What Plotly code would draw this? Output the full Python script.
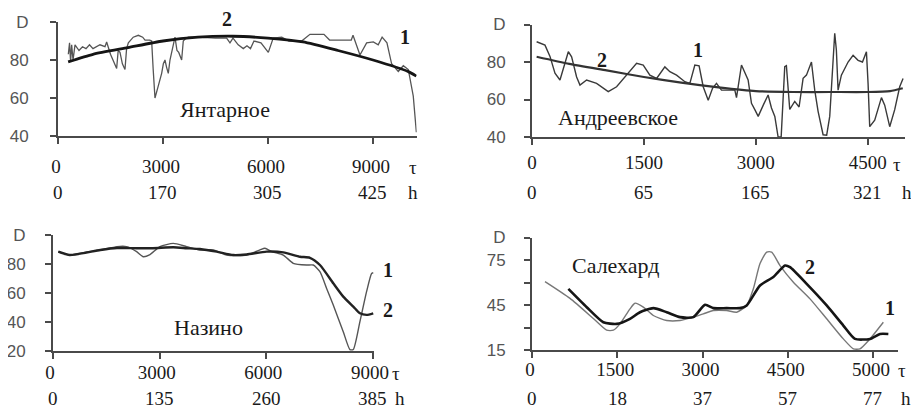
import plotly.graph_objects as go

# The page body has an 8px margin, so the figure is drawn 8px in from the
# top-left corner of the 919x409 window; all layout positions below are given
# in window pixels and converted with that offset.
OFF = 8
W, H = 919 - OFF, 409 - OFF

# ---------------- data ----------------
# Panel 1: Янтарное
yan_tau1 = [295,330,360,390,430,486,600,700,800,900,
            1000,1100,1200,1343,1390,1500,1676,1720,1771,1840,
            1914,1960,2010,2150,2295,2420,2486,2620,2676,2720,
            2771,2860,2962,3010,3057,3105,3152,3200,3248,3295,
            3343,3400,3450,3533,3580,3629,3724,3866,4000,4500,
            4819,4914,5000,5150,5295,5400,5500,5600,5800,6010,
            6150,6395,6600,6962,7100,7200,7600,7760,8380,8430,
            8629,8819,9010,9150,9262,9400,9533,9724,9867,10010,
            10152,10240]
yan_d1 = [83,89,79,88,80,88,85,87,86,88,
          86,87,88,87,89.5,83,75.5,85,84,78,
          75,86,89,92,93,92,90.5,90.5,90,75,
          60,66,73,78,80,76,73,80,84,89,
          92,85,84,80,90,91,92,92,92,91.5,
          91.5,89,91.5,88,86,87.5,86,90,89,84,
          91.5,92,90,90,92,93.5,93.5,90.5,90.5,93,
          82.6,89,89.5,88,92,89,78,74,77,75,
          61,42]
yan_tau2 = [290,1000,2000,3000,4000,5000,6000,7000,8000,9000,10000,10240]
yan_d2 = [79,83,86.5,90,92,92.5,91.5,89.5,85,80,74,71.5]
yan_tau_ticks = [0,3000,6000,9000]
yan_h_labels = ["0","170","305","425"]

# Panel 2: Андреевское
and_tau1 = [62,174,241,308,375,442,487,531,598,643,
            732,866,1022,1134,1268,1402,1491,1580,1670,1781,
            1848,1938,2049,2116,2183,2240,2295,2362,2420,2473,
            2540,2719,2741,2808,2897,2942,2987,3032,3100,3165,
            3210,3255,3299,3340,3388,3410,3455,3522,3580,3634,
            3679,3746,3790,3835,3902,3950,3991,4058,4080,4103,
            4147,4237,4304,4371,4430,4483,4505,4527,4594,4684,
            4728,4795,4862,4929,4974]
and_d1 = [90.8,89,83,74,70.4,79.3,85.5,82.8,72,67.7,
          70.4,68.6,64.2,66.8,73,79.3,78.4,73,71.2,77.4,
          74.8,73,69.5,68.6,78.4,78,66.8,59.6,66,68.6,
          65,65,61,78.4,70.4,58,54.6,51,57,62.4,
          55.5,51,40,40,77.5,78,54.7,59,56,71.3,
          73,80,65,53.7,41.2,41,51,95.3,86.4,65,
          73,80,83.6,80.9,80,85.5,68.6,45.5,49,61,
          57,45.5,54.6,66.8,71.2]
and_tau2 = [62,500,1000,1500,2000,2500,3000,3500,4000,4500,4800,4970]
and_d2 = [82.8,79,75.5,72,69,66.5,64.5,64,64,64,64.5,66]
and_tau_ticks = [0,1500,3000,4500]
and_h_labels = ["0","65","165","321"]

# Panel 3: Назино
naz_tau1 = [150,469,900,1331,1800,2072,2353,2541,2728,3009,
            3384,3760,4134,4509,4884,5446,5821,5962,6150,6478,
            6759,7134,7322,7509,7700,7884,8165,8353,8447,8634,
            8821,8962,9009]
naz_d1 = [88.5,86.2,88,89.7,92,92,88.5,85,86.5,92,
          94.2,92,89.7,89.7,86.2,86.2,89.7,90.9,88.5,86.2,
          80.5,79.3,79.3,74.7,63,51.7,33.3,21,21,40.2,
          60.9,73.5,74]
naz_tau2 = [150,469,1331,1800,2353,2810,3384,3760,4134,4603,
            5072,5446,6009,6478,6947,7228,7509,7884,8165,8447,
            8634,8821,9009]
naz_d2 = [88.5,86.2,89.7,91,90.9,90.9,91.5,90.9,90.3,88.5,
          86.2,86.6,88.5,88,85,84.3,79.3,66.7,57.5,50.6,
          46,44.9,46]
naz_tau_ticks = [0,3000,6000,9000]
naz_h_labels = ["0","135","260","385"]

# Panel 4: Салехард
sal_tau1 = [229,669,1079,1314,1431,1548,1724,1812,1959,2135,
            2370,2605,2839,3015,3191,3426,3602,3778,3895,4012,
            4130,4217,4364,4599,4892,5185,5478,5654,5771,5947,
            6182]
sal_d1 = [60.6,49.4,36,28.2,28.2,32.4,42.4,46.2,43.6,38,
          34.7,34.7,36.9,39.1,41.3,41.3,40.2,44.7,55.8,72.6,
          80.3,80.3,71.3,60.2,49.1,35.8,22.4,15.8,15.8,22.4,
          33.5]
sal_tau2 = [640,963,1255,1490,1724,1900,2135,2370,2605,2839,
            3045,3191,3426,3660,3778,4012,4247,4452,4540,4833,
            5185,5478,5683,5947,6123,6270]
sal_d2 = [55.7,43.5,33.5,32.4,35.8,40.2,42.9,40.2,36.9,36.9,
          45.1,42.9,42.9,42.9,44.7,58,63.6,71.3,70.2,59.1,
          44.7,31.3,22.4,22.4,25.7,25.7]
sal_tau_ticks = [0,1500,3000,4500,6000]
sal_tau_labels = ["0","1500","3000","4500","5000"]
sal_h_labels = ["0","18","37","57","77"]

ticks_d_100 = [40,60,80,100]
labels_d_100 = ["40","60","80","D"]
ticks_d_naz = [20,40,60,80,100]
labels_d_naz = ["20","40","60","80","D"]
ticks_d_sal = [15,30,45,60,75,90]
labels_d_sal = ["15","","45","","75","D"]

# ---------------- layout helpers ----------------
def px_x(p):
    return (p - OFF) / W

def px_y(p):
    return 1 - (p - OFF) / H

AX = "#4a4a4a"
SERIF = "Liberation Serif, Times New Roman, serif"
SANS = "Liberation Sans, Arial, sans-serif"

def xaxis(dom, rng, tickvals, ticktext, standoff, shift=0):
    return dict(domain=[px_x(dom[0]), px_x(dom[1])], range=rng, showline=True,
                linecolor=AX, linewidth=2, ticks="outside", ticklen=6, tickwidth=1.5,
                tickcolor=AX, showgrid=False, zeroline=False, tickvals=tickvals,
                ticktext=ticktext, tickfont=dict(family=SERIF, size=19, color="#1a1a1a"),
                ticklabelstandoff=standoff, ticklabelshift=shift,
                automargin=False, fixedrange=True)

def yaxis(dom, rng, tickvals, ticktext, standoff):
    return dict(domain=[px_y(dom[0]), px_y(dom[1])], range=rng, showline=True,
                linecolor=AX, linewidth=2, ticks="outside", ticklen=6, tickwidth=1.5,
                tickcolor=AX, showgrid=False, zeroline=False, tickvals=tickvals,
                ticktext=ticktext, tickfont=dict(family=SANS, size=17, color="#555"),
                ticklabelstandoff=standoff, automargin=False, fixedrange=True)

fig = go.Figure()

def add(x, y, ax, color, width, shape="linear"):
    fig.add_trace(go.Scatter(x=x, y=y, mode="lines", xaxis="x" + ax, yaxis="y" + ax,
                             line=dict(color=color, width=width, shape=shape,
                                       smoothing=0.6),
                             showlegend=False, hoverinfo="skip"))

add(yan_tau1, yan_d1, "", "#555555", 1.3)
add(yan_tau2, yan_d2, "", "#151515", 2.8, "spline")
add(and_tau1, and_d1, "2", "#3a3a3a", 1.4)
add(and_tau2, and_d2, "2", "#333333", 2.2, "spline")
add(naz_tau1, naz_d1, "3", "#555555", 1.4, "spline")
add(naz_tau2, naz_d2, "3", "#222222", 2.4, "spline")
add(sal_tau1, sal_d1, "4", "#777777", 1.4, "spline")
add(sal_tau2, sal_d2, "4", "#151515", 2.6, "spline")

fig.update_layout(
    template="none",
    width=W, height=H, margin=dict(l=0, r=0, t=0, b=0, autoexpand=False),
    paper_bgcolor="white", plot_bgcolor="white", showlegend=False,
    xaxis=xaxis((58, 416.7), [0, 10250], yan_tau_ticks, [str(v) for v in yan_tau_ticks], 6, -2),
    yaxis=yaxis((136, 22), [40, 100], ticks_d_100, labels_d_100, 18),
    xaxis2=dict(xaxis((532, 905), [0, 5000], and_tau_ticks, [str(v) for v in and_tau_ticks], 1), anchor="y2"),
    yaxis2=dict(yaxis((137, 24.5), [40, 100], ticks_d_100, labels_d_100, 15), anchor="x2"),
    xaxis3=dict(xaxis((53, 374), [0, 9030], naz_tau_ticks, [str(v) for v in naz_tau_ticks], -3, -3), anchor="y3"),
    yaxis3=dict(yaxis((351, 235), [20, 100], ticks_d_naz, labels_d_naz, 16), anchor="x3"),
    xaxis4=dict(xaxis((532, 898), [0, 6440], sal_tau_ticks, sal_tau_labels, -5, -2), anchor="y4"),
    yaxis4=dict(yaxis((350, 237.5), [15, 90], ticks_d_sal, labels_d_sal, 15), anchor="x4"),
)

ann = []

def text(x, y, s, size=19, family=SERIF, bold=False, color="#1a1a1a", xref="paper", xanchor="center"):
    ann.append(dict(x=x if xref != "paper" else px_x(x), y=px_y(y), xref=xref, yref="paper",
                    text=("<b>%s</b>" % s) if bold else s, showarrow=False,
                    font=dict(family=family, size=size, color=color),
                    xanchor=xanchor, yanchor="middle"))

# h-row tick labels (second scale under each τ axis)
for ticks, labels, ax, row in [(yan_tau_ticks, yan_h_labels, "x", 192),
                               (and_tau_ticks, and_h_labels, "x2", 192),
                               (naz_tau_ticks, naz_h_labels, "x3", 398),
                               (sal_tau_ticks, sal_h_labels, "x4", 398)]:
    for v, lab in zip(ticks, labels):
        text(v, row, lab, xref=ax)

# τ / h symbols
for xt, yt, xh, yh in [(413, 167, 413, 192), (897, 164, 907, 192),
                       (396, 373, 400, 398), (902, 370, 906, 398)]:
    text(xt, yt, "τ")
    text(xh, yh, "h")

# station names
text(225, 110, "Янтарное", size=22)
text(618, 117, "Андреевское", size=22)
text(208, 327, "Назино", size=22)
text(615, 265, "Салехард", size=22)

# curve numbers
for x, y, s in [(227, 19, "2"), (405, 37, "1"), (602, 60, "2"), (698, 50, "1"),
                (388, 270, "1"), (388, 310, "2"), (810, 267, "2"), (890, 308, "1")]:
    text(x, y, s, size=20, bold=True)

fig.update_layout(annotations=ann)
fig.write_html("out.html")
